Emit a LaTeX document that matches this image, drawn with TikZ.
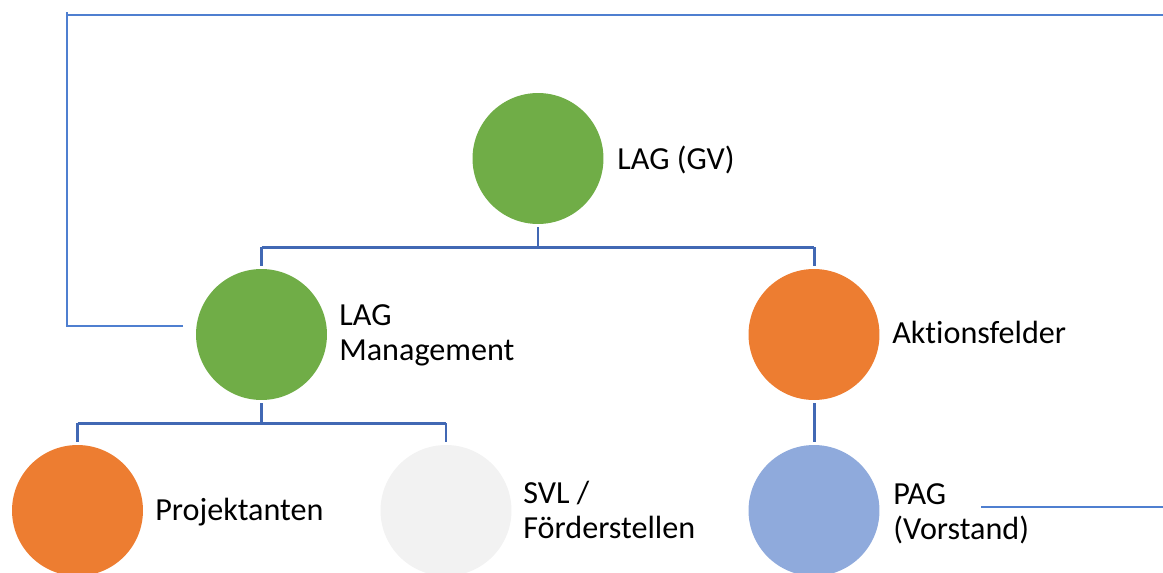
\documentclass[tikz,border=0pt]{standalone}
\usepackage{fontspec}
\setmainfont{Carlito}[Ligatures=NoCommon]
\definecolor{cgreen}{HTML}{70AD47}
\definecolor{corange}{HTML}{ED7D31}
\definecolor{cgray}{HTML}{F2F2F2}
\definecolor{cblue}{HTML}{8FAADC}
\definecolor{clink}{HTML}{4168B4}
\definecolor{cthin}{HTML}{4F7FD0}
\begin{document}
\begin{tikzpicture}[x=0.02cm,y=-0.02cm,
  bubble/.style={circle,minimum size=2.62cm,inner sep=0pt,draw=none},
  lbl/.style={anchor=base west,inner sep=0pt,align=left,font=\fontsize{18.3}{19.9}\selectfont},
  link/.style={draw=clink,line width=1.7pt},
  thin/.style={draw=cthin,line width=0.9pt}]
\useasboundingbox (0,0) rectangle (1163,572);
% circles
\node[bubble,fill=cgreen] (lag) at (538,158.5) {};
\node[bubble,fill=cgreen] (man) at (261.5,334.5) {};
\node[bubble,fill=corange] (akt) at (814,334.5) {};
\node[bubble,fill=corange] (proj) at (77.5,510.5) {};
\node[bubble,fill=cgray] (svl) at (446,510.5) {};
\node[bubble,fill=cblue] (pag) at (814,510.5) {};
% labels (base anchor = last line baseline)
\node[lbl] (tlag) at (617,169) {LAG (GV)};
\node[lbl] (tman) at (339,360) {LAG\\Management};
\node[lbl] (takt) at (892,343) {Aktionsfelder};
\node[lbl] (tproj) at (155,520) {Projektanten};
\node[lbl] (tsvl) at (523,538) {SVL /\\Förderstellen};
\node[lbl] (tpag) at (893,539) {PAG\\(Vorstand)};
% tree connectors
\draw[link] ([yshift=-0.06cm]lag.south) -- ++(0,20) coordinate (j1);
\draw[link] (j1 -| man.north) -- (j1 -| akt.north);
\draw[link] (j1 -| man.north) -- ([yshift=0.06cm]man.north);
\draw[link] (j1 -| akt.north) -- ([yshift=0.06cm]akt.north);
\draw[link] ([yshift=-0.06cm]man.south) -- ++(0,20) coordinate (j2);
\draw[link] (j2 -| proj.north) -- (j2 -| svl.north);
\draw[link] (j2 -| proj.north) -- ([yshift=0.06cm]proj.north);
\draw[link] (j2 -| svl.north) -- ([yshift=0.06cm]svl.north);
\draw[link] ([yshift=-0.06cm]akt.south) -- ([yshift=0.06cm]pag.north);
% thin lines
\coordinate (fb) at (183,326);
\coordinate (c1) at (67,326);
\coordinate (c2) at (67,12);
\coordinate (c3) at (67,15);
\coordinate (c4) at (1163,15);
\draw[thin] (fb) -- (c1) -- (c2);
\draw[thin] (c3) -- (c4);
\coordinate (p1) at (981,507);
\coordinate (p2) at (1163,507);
\draw[thin] (p1) -- (p2);
\end{tikzpicture}
\end{document}
